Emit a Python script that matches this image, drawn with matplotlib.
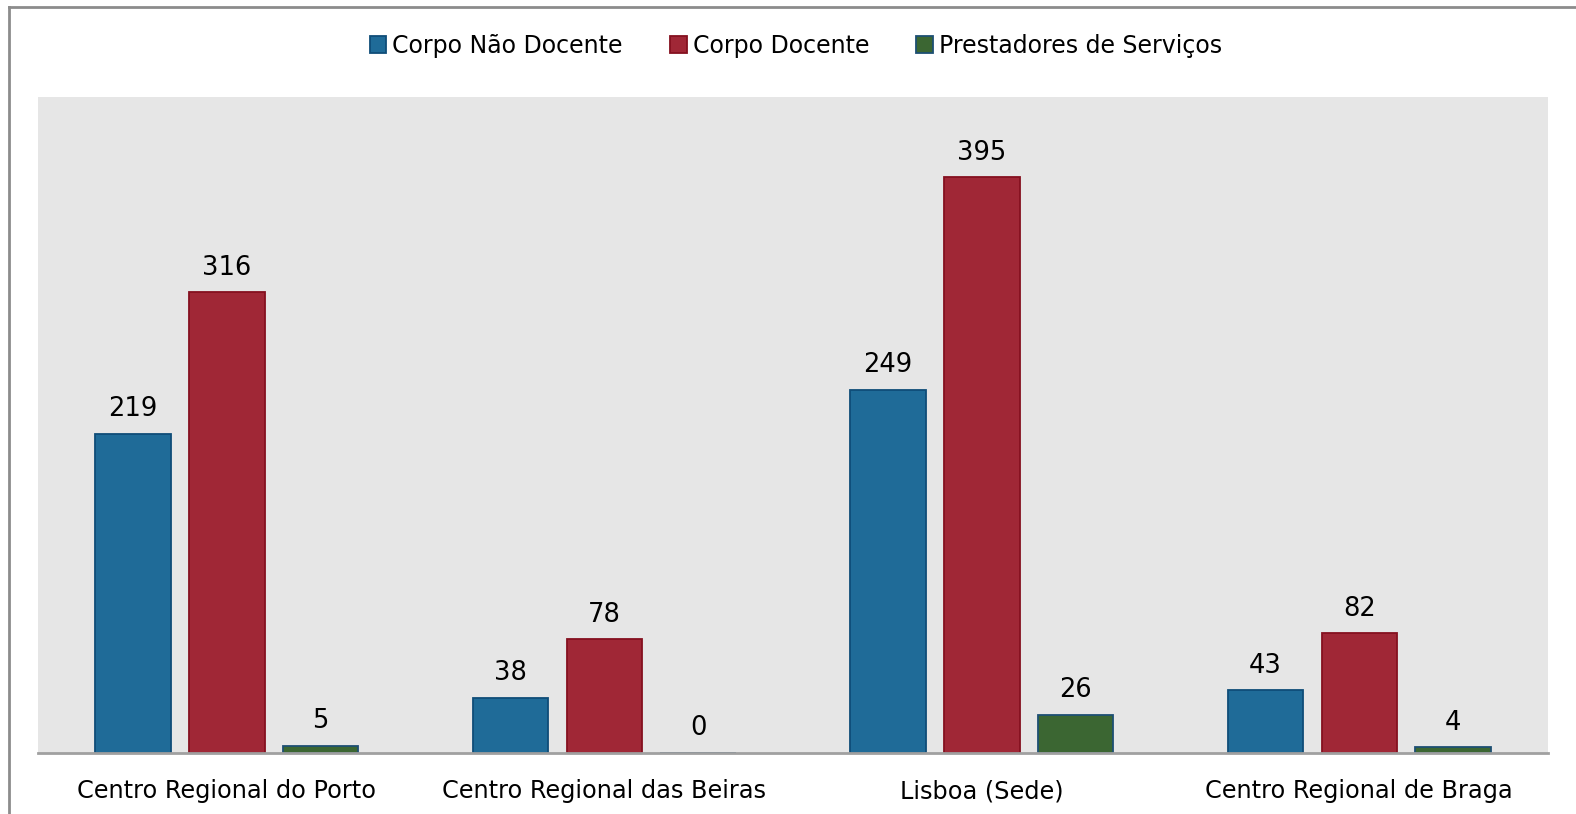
import numpy as np
import matplotlib.pyplot as plt
from matplotlib.lines import Line2D

# dados
categorias = ['Centro Regional do Porto', 'Centro Regional das Beiras',
              'Lisboa (Sede)', 'Centro Regional de Braga']
series = ['Corpo Não Docente', 'Corpo Docente', 'Prestadores de Serviços']
nao_docente = [219, 38, 249, 43]
docente = [316, 78, 395, 82]
prestadores = [5, 0, 26, 4]

cores = ['#1f6b98', '#a02736', '#3b6632']
bordas = ['#0f4d78', '#85101f', '#1d4f73']

W, H = 1576, 814
fig = plt.figure(figsize=(W / 100, H / 100), dpi=100)
fig.patch.set_facecolor('white')
ax = fig.add_axes([38 / W, (H - 753) / H, (1548 - 38) / W, (753 - 97) / H])
ax.set_facecolor('#e6e6e6')

x = np.arange(len(categorias))
largura = 0.2
desloc = 0.249
for i, (nome, vals) in enumerate(zip(series, [nao_docente, docente, prestadores])):
    pos = x + (i - 1) * desloc
    ax.bar(pos, vals, largura, color=cores[i], edgecolor=bordas[i],
           linewidth=1.3, label=nome, zorder=3)
    for xb, v in zip(pos, vals):
        ax.text(xb, v + 8, str(v), ha='center', va='bottom', fontsize=18.5,
                color='black')

ax.set_xlim(-0.5, 3.5)
ax.set_ylim(0, 450)
ax.set_xticks(x)
ax.set_xticklabels(categorias, fontsize=17.3)
ax.tick_params(axis='x', length=0, pad=19)
ax.set_yticks([])
for s in ['top', 'left', 'right']:
    ax.spines[s].set_visible(False)
ax.spines['bottom'].set_color('#a0a0a0')
ax.spines['bottom'].set_linewidth(2)
ax.spines['bottom'].set_zorder(4)

fig.legend(loc='center', bbox_to_anchor=(0.505, 1 - 46 / H), ncol=3,
           frameon=False, fontsize=17, handlelength=0.7, handleheight=0.7,
           handletextpad=0.25, columnspacing=2.0)

# moldura
fig.add_artist(Line2D([9 / W, 9 / W], [0, 1 - 7 / H], transform=fig.transFigure,
                      color='#8c8c8c', linewidth=2))
fig.add_artist(Line2D([9 / W, 1], [1 - 7 / H, 1 - 7 / H], transform=fig.transFigure,
                      color='#8c8c8c', linewidth=2))

fig.savefig('out.png', dpi=100)
